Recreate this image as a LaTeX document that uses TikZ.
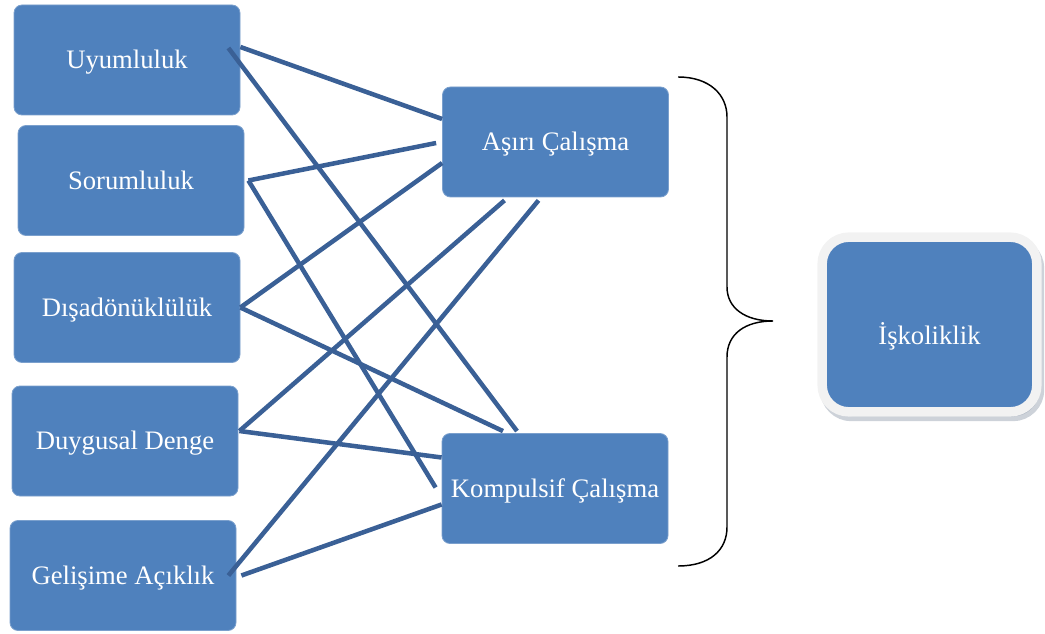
\documentclass[tikz,border=0pt]{standalone}
\usepackage{fontspec}
\setmainfont{Liberation Serif}
\usetikzlibrary{calc,shadows}
\definecolor{boxblue}{HTML}{4F81BD}
\definecolor{linkblue}{HTML}{3A6096}
\definecolor{rimgray}{HTML}{F2F2F2}
\definecolor{shadegray}{HTML}{9CA6B4}
\begin{document}
\begin{tikzpicture}[x=0.75pt, y=-0.75pt, font=\fontsize{20}{24}\selectfont,
  factor/.style={rectangle, rounded corners=6pt, fill=boxblue, draw=boxblue!75!white, line width=0.6pt,
    text=white, minimum width=169.5pt, minimum height=82.5pt, text height=13.2pt, text depth=0pt},
  every edge/.style={draw=linkblue, line width=3.4pt}]
 \useasboundingbox (0,0) rectangle (1045,634);
 % left column
 \node [factor] (uyum) at (127,60) {Uyumluluk};
 \node [factor] (sorum) at (131,180.5) {Sorumluluk};
 \node [factor] (disa) at (127,307.5) {Dışadönüklülük};
 \node [factor] (duygu) at (125,441) {Duygusal Denge};
 \node [factor] (gelis) at (123,575.5) {Gelişime Açıklık};
 % middle column
 \node [factor] (asiri) at (555.5,142) {Aşırı Çalışma};
 \node [factor] (kompul) at (555,488.5) {Kompulsif Çalışma};
 % result
 \node [rectangle, rounded corners=20pt, fill=boxblue, draw=rimgray, line width=7.1pt, text=white,
   minimum width=161pt, minimum height=131pt, text height=30pt, text depth=0pt,
   drop shadow={shadow xshift=2pt, shadow yshift=-3.5pt, fill=shadegray, draw=shadegray, line width=7.1pt}]
   (isko) at (929.5,324.5) {İşkoliklik};

 \path ($(uyum.east)+(0,-13)$) edge ($(asiri.west)+(0,-23)$);
 \path ($(uyum.east)+(-12,-12)$) edge ($(kompul.north)+(-38,-2)$);

 \path ($(sorum.east)+(4,0)$) edge ($(asiri.west)+(-6,1)$);
 \path ($(sorum.east)+(4,0)$) edge ($(kompul.west)+(-6,-1)$);

 \path (disa.east) edge ($(asiri.west)+(0,21)$);
 \path (disa.east) edge ($(kompul.north)+(-52,-2)$);

 \path ($(duygu.east)+(1,-10)$) edge ($(asiri.south)+(-51,3)$);
 \path ($(duygu.east)+(1,-10)$) edge ($(kompul.west)+(0,-31)$);

 \path ($(gelis.east)+(-8,0)$) edge ($(asiri.south)+(-17,3)$);
 \path ($(gelis.east)+(5,0)$) edge ($(kompul.west)+(0,16)$);

 % brace
 \draw [line width=1.1pt] (678,77) .. controls (710,77) and (727,95) .. (727,117) -- (727,287)
   .. controls (727,308) and (745,321) .. (773,321)
   .. controls (745,321) and (727,334) .. (727,357) -- (727,527)
   .. controls (727,550) and (710,566) .. (678,566);
\end{tikzpicture}
\end{document}
